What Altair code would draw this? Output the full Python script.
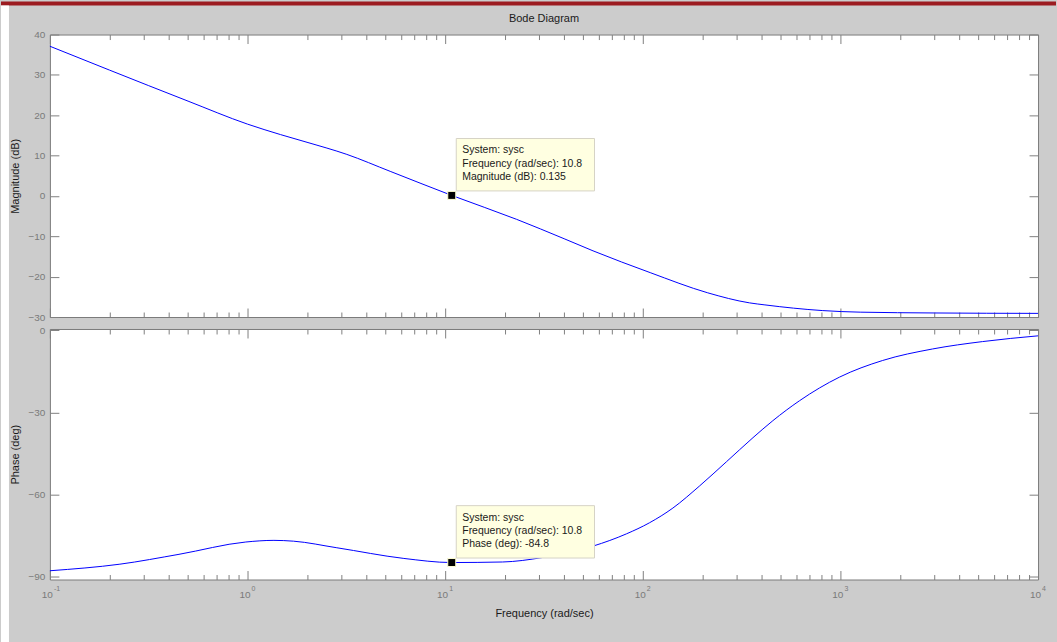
import altair as alt
import pandas as pd

# ---------------- data ----------------
mag_freq = [0.1, 0.2, 0.5, 1.0, 1.47, 2.0, 3.18, 5.27, 10.8, 23, 40, 56, 109, 213, 347,
            415, 809, 1259, 3000, 10000]
mag_db = [37.1, 31.2, 23.5, 17.8, 15.2, 13.3, 10.3, 6.1, 0.135, -5.8, -10.6, -13.6,
          -19.0, -24.0, -26.5, -27.0, -28.4, -28.8, -29.0, -29.1]

ph_freq = [0.1, 0.226, 0.45, 0.98, 1.36, 1.71, 2.83, 6.18, 10.8, 19.5, 30.9, 56, 82.8,
           108, 142, 194, 265, 361, 455, 621, 988, 1636, 2925, 5236, 10000]
ph_deg = [-87.8, -85.4, -81.8, -77.3, -76.7, -77.0, -79.4, -83.3, -84.8, -84.6, -83.0,
          -78.8, -74.3, -70.3, -64.9, -56.8, -48.0, -39.2, -33.0, -25.7, -17.1, -11.0,
          -6.8, -4.1, -2.0]

decades = [0.1, 1, 10, 100, 1000, 10000]
decade_exp = ["-1", "0", "1", "2", "3", "4"]
minor_ticks = [0.2, 0.3, 0.4, 0.5, 0.6, 0.7, 0.8, 0.9,
               2, 3, 4, 5, 6, 7, 8, 9,
               20, 30, 40, 50, 60, 70, 80, 90,
               200, 300, 400, 500, 600, 700, 800, 900,
               2000, 3000, 4000, 5000, 6000, 7000, 8000, 9000]
mag_ticks = [-30, -20, -10, 0, 10, 20, 30, 40]
ph_ticks = [-90, -60, -30, 0]

tip_freq = [10.8]
tip_mag = [0.135]
tip_phase = [-84.8]
tip_mag_text = ["System: sysc\nFrequency (rad/sec): 10.8\nMagnitude (dB): 0.135"]
tip_phase_text = ["System: sysc\nFrequency (rad/sec): 10.8\nPhase (deg): -84.8"]

# ---------------- styling ----------------
W, H1, H2, GAP = 990, 283, 251, 12
FONT = "Liberation Sans"
TICK = "#808080"
LBL = "#7a7a7a"
TXT = "#1a1a1a"

xsc = alt.Scale(type="log", domain=[0.1, 10000], nice=False)


def ax(orient, values, size, **kw):
    d = dict(orient=orient, values=values, tickSize=size, offset=-size, domain=False,
             grid=False, tickColor=TICK, tickWidth=1, labels=False, title=None)
    d.update(kw)
    return alt.Axis(**d)


def panel(df, yfield, ydomain, yticks, ytitle, H, bottom):
    base = alt.Chart(df)
    ysc = alt.Scale(domain=ydomain, nice=False, zero=False)
    xkw = {}
    if bottom:
        xkw = dict(title="Frequency  (rad/sec)", titlePadding=28, titleFont=FONT,
                   titleFontSize=11, titleFontWeight="normal", titleColor=TXT)
    line = base.mark_line(color="#0000FF", strokeWidth=1, interpolate="monotone").encode(
        x=alt.X("freq:Q", scale=xsc, axis=ax("bottom", decades, 9, **xkw)),
        y=alt.Y(f"{yfield}:Q", scale=ysc,
                axis=ax("left", yticks, 9, labels=True, labelPadding=5, labelFont=FONT,
                        labelFontSize=10, labelColor=LBL, title=ytitle, titleFont=FONT,
                        titleFontSize=11, titleFontWeight="normal", titleColor=TXT,
                        titlePadding=8)),
    )
    l2 = base.mark_line(strokeOpacity=0).encode(
        x=alt.X("freq:Q", scale=xsc, axis=ax("bottom", minor_ticks, 5)),
        y=alt.Y(f"{yfield}:Q", scale=ysc, axis=ax("right", yticks, 9)),
    )
    l3 = base.mark_line(strokeOpacity=0).encode(
        x=alt.X("freq:Q", scale=xsc, axis=ax("top", decades, 9)),
        y=alt.Y(f"{yfield}:Q", scale=ysc, axis=None),
    )
    l4 = base.mark_line(strokeOpacity=0).encode(
        x=alt.X("freq:Q", scale=xsc, axis=ax("top", minor_ticks, 5)),
        y=alt.Y(f"{yfield}:Q", scale=ysc, axis=None),
    )
    return [line, l2, l3, l4], ysc


def datatip(freq, val, text, ysc):
    d = pd.DataFrame({"freq": freq, "val": val, "txt": text})
    b = alt.Chart(d)
    enc = dict(x=alt.X("freq:Q", scale=xsc, axis=None),
               y=alt.Y("val:Q", scale=ysc, axis=None))
    box = b.mark_rect(fill="#FFFFE1", stroke="#D6D3C6", strokeWidth=1,
                      xOffset=4.5, x2Offset=143, yOffset=-57, y2Offset=-4.5).encode(
        x2="freq:Q", y2="val:Q", **enc)
    txt = b.mark_text(align="left", baseline="top", dx=10.5, dy=-50, lineBreak="\n",
                      lineHeight=13.3, font=FONT, fontSize=10.5, color=TXT).encode(
        text="txt:N", **enc)
    mk = b.mark_square(size=64, color="black", filled=True, opacity=1,
                       stroke="#FFFFD0", strokeWidth=1).encode(**enc)
    return [box, txt, mk]


mag_df = pd.DataFrame({"freq": mag_freq, "mag": mag_db})
ph_df = pd.DataFrame({"freq": ph_freq, "ph": ph_deg})

top_layers, ysc_top = panel(mag_df, "mag", [-30, 40], mag_ticks, "Magnitude (dB)", H1, False)
bot_layers, ysc_bot = panel(ph_df, "ph", [-91, 0.5], ph_ticks, "Phase (deg)", H2, True)

top = alt.layer(
    *top_layers, *datatip(tip_freq, tip_mag, tip_mag_text, ysc_top)
).resolve_axis(x="independent", y="independent").properties(
    width=W, height=H1,
    title=alt.TitleParams("Bode Diagram", font=FONT, fontSize=11, fontWeight="normal",
                          color=TXT, offset=6, frame="group", anchor="middle"))

# window chrome of the screenshot (outside the plot areas); also fixes the canvas extent
TOP_Y = -(H1 + GAP)          # top edge of the upper panel, seen from the lower panel
chrome = pd.DataFrame({"k": [0]})
red_band = alt.Chart(chrome).mark_rect(color="#9C1B20").encode(
    x=alt.value(-49), x2=alt.value(W + 18), y=alt.value(TOP_Y - 33), y2=alt.value(TOP_Y - 29))
white_strip = alt.Chart(chrome).mark_rect(color="white").encode(
    x=alt.value(-49), x2=alt.value(-41), y=alt.value(TOP_Y - 29), y2=alt.value(H2 + 63))

dec_df = pd.DataFrame({"freq": decades, "exp": decade_exp})
ten = alt.Chart(dec_df).mark_text(text="10", align="right", baseline="middle", dx=3,
                                  font=FONT, fontSize=10, color=LBL).encode(
    x=alt.X("freq:Q", scale=xsc, axis=None), y=alt.value(H2 + 16))
expo = alt.Chart(dec_df).mark_text(align="left", baseline="middle", dx=4,
                                   font=FONT, fontSize=7, color=LBL).encode(
    x=alt.X("freq:Q", scale=xsc, axis=None), y=alt.value(H2 + 9.5), text="exp:N")

bottom = alt.layer(
    red_band, white_strip, *bot_layers, ten, expo,
    *datatip(tip_freq, tip_phase, tip_phase_text, ysc_bot)
).resolve_axis(x="independent", y="independent").properties(width=W, height=H2)

chart = alt.vconcat(top, bottom, spacing=GAP, bounds="flush").properties(
    background="#CCCCCC",
    padding=0,
    autosize=alt.AutoSizeParams(type="pad"),
).configure_view(fill="white", stroke="#7a7a7a", strokeWidth=1)

chart.save("out.html", embed_options={"renderer": "svg", "actions": False})
